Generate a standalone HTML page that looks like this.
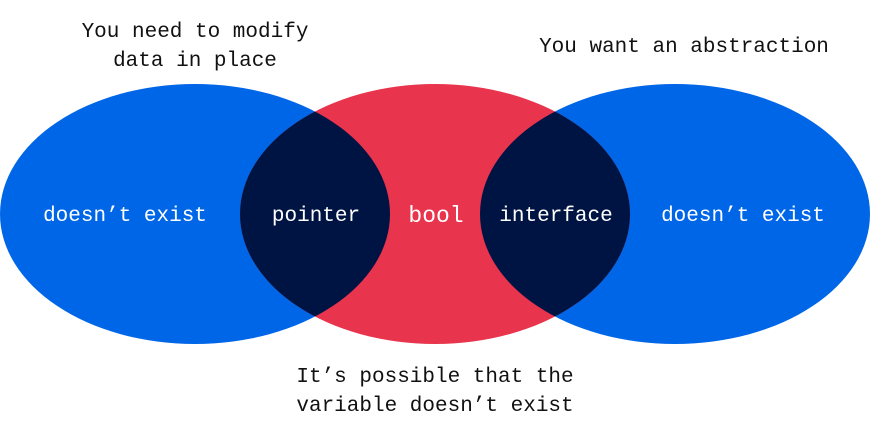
<!DOCTYPE html>
<html><head><meta charset="utf-8"><style>
html,body{margin:0;padding:0;background:#fff;width:870px;height:442px;overflow:hidden}
svg text{font-family:"Liberation Mono",monospace}
</style></head><body>
<svg width="870" height="442" viewBox="0 0 870 442" xmlns="http://www.w3.org/2000/svg">
<defs>
<clipPath id="cm"><ellipse cx="435" cy="214" rx="195" ry="130"/></clipPath>
</defs>
<ellipse cx="195" cy="214" rx="195" ry="130" fill="#0066e8"/>
<ellipse cx="675" cy="214" rx="195" ry="130" fill="#0066e8"/>
<ellipse cx="435" cy="214" rx="195" ry="130" fill="#e8344c"/>
<g clip-path="url(#cm)">
<ellipse cx="195" cy="214" rx="195" ry="130" fill="#001443"/>
<ellipse cx="675" cy="214" rx="195" ry="130" fill="#001443"/>
</g>
<g fill="#fff" font-size="21" text-anchor="middle">
<text x="125" y="221">doesn’t exist</text>
<text x="316" y="221">pointer</text>
<text x="436" y="222" font-size="23">bool</text>
<text x="556" y="221">interface</text>
<text x="743" y="221">doesn’t exist</text>
</g>
<g fill="#111" font-size="21" text-anchor="middle">
<text x="195" y="37">You need to modify</text>
<text x="195" y="66">data in place</text>
<text x="684" y="52">You want an abstraction</text>
<text x="435" y="382">It’s possible that the</text>
<text x="435" y="411">variable doesn’t exist</text>
</g>
</svg>
</body></html>
